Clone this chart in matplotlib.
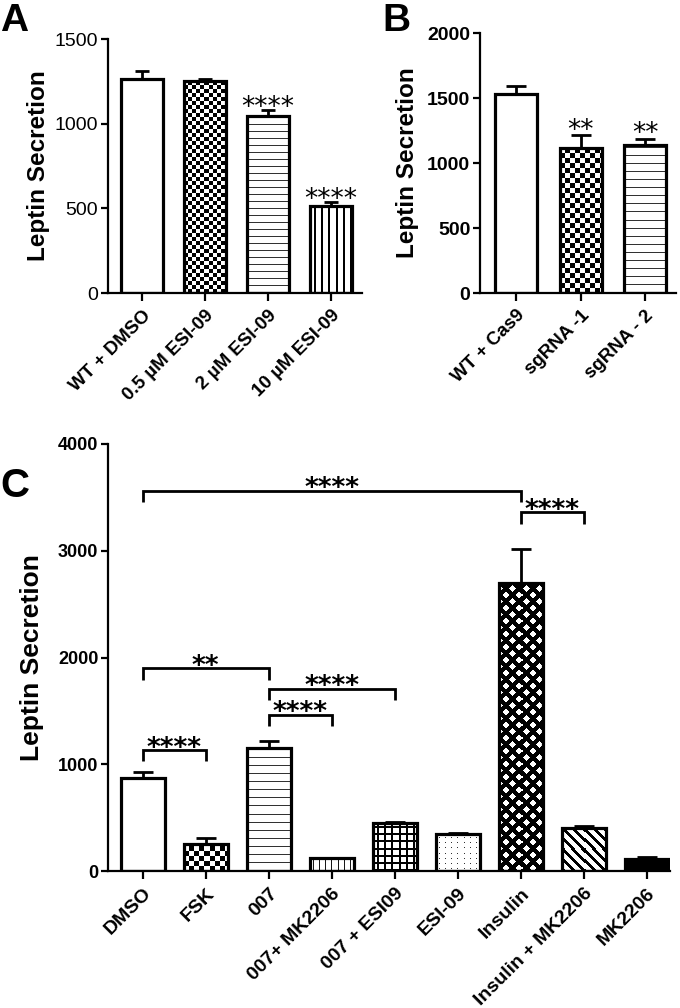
import numpy as np
import matplotlib
matplotlib.use('Agg')
import matplotlib.pyplot as plt

plt.rcParams['font.family'] = ['Liberation Sans', 'DejaVu Sans']

# ---------------- data ----------------
a_labels = ['WT + DMSO', '0.5 \u00b5M ESI-09', '2 \u00b5M ESI-09', '10 \u00b5M ESI-09']
a_values = [1265, 1250, 1045, 515]
a_errors = [48, 14, 33, 22]
a_stars = ['', '', '****', '****']

b_labels = ['WT + Cas9', 'sgRNA -1', 'sgRNA - 2']
b_values = [1533, 1115, 1141]
b_errors = [57, 98, 46]
b_stars = ['', '**', '**']

c_labels = ['DMSO', 'FSK', '007', '007+ MK2206', '007 + ESI09', 'ESI-09',
            'Insulin', 'Insulin + MK2206', 'MK2206']
c_values = [875, 250, 1156, 121, 452, 349, 2694, 405, 112]
c_errors = [56, 62, 63, 5, 8, 5, 327, 19, 19]

c_bracket_pairs = [(0, 6), (6, 7), (0, 2), (2, 4), (2, 3), (0, 1)]
c_bracket_heights = [3562, 3360, 1897, 1709, 1462, 1134]
c_bracket_labels = ['****', '****', '**', '****', '****', '****']

# ---------------- styles ----------------
a_patterns = [('none',), ('checker', 4), ('hline', 7, 1, 0.8), ('vline', 7, 2, 1.0)]
b_patterns = [('none',), ('checker', 5), ('hline', 8, 1, 0.8)]
c_patterns = [('none',), ('checker', 5), ('hline', 8, 1, 0.8), ('vline', 6, 1, 0.9),
              ('grid', 7, 2, 1.0), ('dots', 6, 5, 0.8), ('diamond', 13, 6),
              ('diag', 10, 4), ('solid',)]

fig = plt.figure(figsize=(6.8, 10.08), dpi=100)
axA = fig.add_axes([108/680, 1-293/1008, (362-108)/680, (293-39)/1008])
axB = fig.add_axes([480/680, 1-293/1008, (676-480)/680, (293-33)/1008])
axC = fig.add_axes([108/680, 1-871/1008, (670-108)/680, (871-444)/1008])


def pattern_array(spec, W, H):
    kind = spec[0]
    i, j = np.mgrid[0:H, 0:W]
    i = (H - 1 - i)
    arr = np.zeros((H, W))
    if kind == 'checker':
        s = spec[1]
        arr = ((i // s + j // s) % 2).astype(float)
    elif kind == 'hline':
        s, t, v = spec[1:]
        arr = np.where((i % s) < t, v, 0.0)
    elif kind == 'vline':
        s, t, v = spec[1:]
        arr = np.where(((j + s // 2) % s) < t, v, 0.0)
    elif kind == 'grid':
        s, t, v = spec[1:]
        arr = np.where(((i % s) < t) | (((j + s // 2) % s) < t), v, 0.0)
    elif kind == 'dots':
        sx, sy, v = spec[1:]
        arr = np.where(((i % sy) == 2) & ((j % sx) == 3), v, 0.0)
    elif kind == 'diamond':
        P, t = spec[1:]
        arr = np.where((((i + j) % P) < t) | (((i - j) % P) < t), 1.0, 0.0)
    elif kind == 'diag':
        P, t = spec[1:]
        arr = np.where(((i + j) % P) < t, 1.0, 0.0)
    elif kind == 'solid':
        arr = np.ones((H, W))
    return arr


def add_pattern(ax, patch, spec):
    if spec[0] == 'none':
        return
    x0, y0 = patch.get_x(), patch.get_y()
    w, h = patch.get_width(), patch.get_height()
    (px0, py0), (px1, py1) = ax.transData.transform([(x0, y0), (x0 + w, y0 + h)])
    W = max(int(round(abs(px1 - px0))), 1)
    H = max(int(round(abs(py1 - py0))), 1)
    arr = pattern_array(spec, W, H)
    ax.imshow(arr, extent=(x0, x0 + w, y0, y0 + h), origin='upper', cmap='gray_r',
              vmin=0, vmax=1, interpolation='nearest', aspect='auto', zorder=2,
              clip_path=patch)


def panel(ax, labels, values, errors, patterns, ymax, ystep, width, capsize,
          xlim, tick_weight, tick_size, xlab_size, ylab_size):
    x = np.arange(len(labels))
    ax.set_xlim(*xlim)
    ax.set_ylim(0, ymax)
    ax.errorbar(x, values, yerr=[np.zeros(len(values)), errors], fmt='none',
                ecolor='black', elinewidth=2.0, capsize=capsize, capthick=2.0, zorder=1)
    bars = ax.bar(x, values, width=width, facecolor='none', edgecolor='black',
                  linewidth=2.3, zorder=3)
    for b, spec in zip(bars, patterns):
        add_pattern(ax, b, spec)
    ax.set_xlim(*xlim)
    ax.set_ylim(0, ymax)
    for s in ['top', 'right']:
        ax.spines[s].set_visible(False)
    for s in ['left', 'bottom']:
        ax.spines[s].set_linewidth(1.6)
    ax.set_yticks(np.arange(0, ymax + 1, ystep))
    ax.set_xticks(x)
    ax.set_xticklabels(labels, rotation=45, ha='right', rotation_mode='anchor',
                       fontsize=xlab_size, fontweight='bold')
    ax.tick_params(axis='x', length=6, width=1.6, pad=4)
    ax.tick_params(axis='y', length=5, width=1.6, pad=2, labelsize=tick_size)
    for t in ax.get_yticklabels():
        t.set_fontweight(tick_weight)
    ax.set_ylabel('Leptin Secretion', fontsize=ylab_size, fontweight='bold')
    return x


xa = panel(axA, a_labels, a_values, a_errors, a_patterns, 1500, 500, 0.67, 5,
           (-0.54, 3.49), 'normal', 14, 13.5, 17.5)
axA.yaxis.labelpad = 3.5
for xi, v, e, s in zip(xa, a_values, a_errors, a_stars):
    if s:
        axA.annotate(s, (xi, v + e), xytext=(0, -3.5), textcoords='offset points',
                     ha='center', va='baseline', fontsize=19, family='DejaVu Sans')

xb = panel(axB, b_labels, b_values, b_errors, b_patterns, 2000, 500, 0.65, 7.5,
           (-0.56, 2.48), 'bold', 14, 13.5, 17.5)
axB.yaxis.labelpad = 6
for xi, v, e, s in zip(xb, b_values, b_errors, b_stars):
    if s:
        axB.annotate(s, (xi, v + e), xytext=(0, -2), textcoords='offset points',
                     ha='center', va='baseline', fontsize=19, family='DejaVu Sans')

xc = panel(axC, c_labels, c_values, c_errors, c_patterns, 4000, 1000, 0.70, 7.5,
           (-0.55, 8.37), 'bold', 13, 14, 19)
axC.yaxis.labelpad = 10
drop = 105
for (i, j), yb, lab in zip(c_bracket_pairs, c_bracket_heights, c_bracket_labels):
    axC.plot([xc[i], xc[i], xc[j], xc[j]], [yb - drop, yb, yb, yb - drop],
             color='black', lw=2.0, solid_capstyle='butt', solid_joinstyle='miter',
             zorder=4)
    axC.annotate(lab, ((xc[i] + xc[j]) / 2, yb), xytext=(0, -4),
                 textcoords='offset points', ha='center', va='baseline',
                 fontsize=19, fontweight='bold', family='DejaVu Sans')

fig.text(0.0, 1.0 - 3/1008, 'A', fontsize=28, fontweight='bold', ha='left', va='top')
fig.text(382/680, 1.0 - 3/1008, 'B', fontsize=28, fontweight='bold', ha='left', va='top')
fig.text(0.0, 1 - 467/1008, 'C', fontsize=29, fontweight='bold', ha='left', va='top')

fig.savefig('out.png', dpi=100)
